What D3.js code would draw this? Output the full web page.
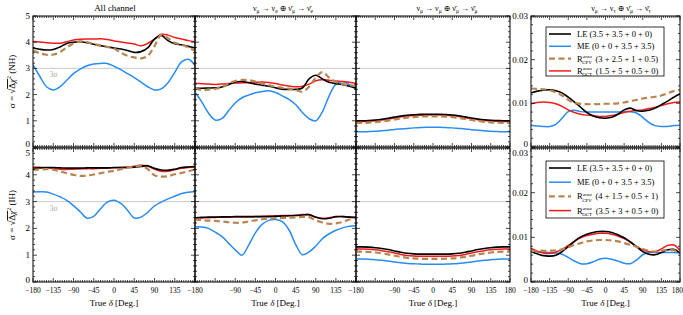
<!DOCTYPE html>
<html>
<head>
<meta charset="utf-8">
<script src="https://cdn.jsdelivr.net/npm/d3@7"></script>
<style>
  body { margin: 0; background: #fff; }
  text { font-family: "Liberation Serif", "DejaVu Serif", serif; }
</style>
</head>
<body>
<script>
// true delta grid, degrees
const delta = [-180,-165,-150,-135,-120,-105,-90,-75,-60,-45,-30,-15,0,15,30,45,60,75,90,105,120,135,150,165,180];

// NH, all channels
const nhAllLE  = [3.78,3.73,3.70,3.72,3.82,3.95,4.00,4.02,3.98,3.92,3.87,3.82,3.78,3.74,3.68,3.61,3.64,3.78,4.12,4.26,4.06,3.94,3.90,3.84,3.78];
const nhAllME  = [3.13,2.70,2.30,2.18,2.30,2.55,2.80,2.97,3.10,3.17,3.19,3.19,3.08,2.95,2.80,2.65,2.48,2.30,2.18,2.22,2.45,2.85,3.25,3.35,3.12];
const nhAllCPV = [3.68,3.58,3.52,3.53,3.62,3.80,3.95,4.03,4.00,3.93,3.87,3.82,3.76,3.60,3.48,3.42,3.38,3.48,3.85,4.28,4.15,3.98,3.90,3.80,3.68];
const nhAllOCT = [4.03,4.01,3.98,3.96,3.96,4.02,4.08,4.11,4.12,4.12,4.13,4.10,4.05,4.01,3.97,3.93,3.86,3.95,4.12,4.30,4.27,4.18,4.12,4.06,4.02];
// NH, nu_mu -> nu_e
const nhAppLE  = [2.24,2.24,2.25,2.26,2.29,2.38,2.48,2.50,2.45,2.40,2.36,2.32,2.26,2.21,2.20,2.20,2.25,2.60,2.74,2.60,2.47,2.42,2.38,2.32,2.25];
const nhAppME  = [2.10,1.72,1.30,1.03,1.08,1.38,1.68,1.88,1.98,2.07,2.12,2.15,2.08,1.95,1.82,1.62,1.32,1.08,1.00,1.35,1.95,2.40,2.50,2.38,2.20];
const nhAppCPV = [2.22,2.18,2.19,2.22,2.28,2.42,2.52,2.56,2.55,2.50,2.42,2.36,2.30,2.26,2.23,2.18,2.11,2.30,2.65,2.86,2.65,2.48,2.40,2.36,2.33];
const nhAppOCT = [2.43,2.41,2.40,2.39,2.40,2.42,2.44,2.45,2.46,2.47,2.48,2.46,2.42,2.37,2.33,2.30,2.32,2.40,2.53,2.57,2.55,2.52,2.50,2.47,2.43];
// NH, nu_mu -> nu_mu
const nhDisLE  = [1.00,1.00,1.01,1.03,1.06,1.10,1.14,1.18,1.21,1.23,1.245,1.25,1.25,1.25,1.24,1.22,1.19,1.15,1.11,1.07,1.04,1.02,1.01,1.00,1.00];
const nhDisME  = [0.58,0.58,0.59,0.60,0.62,0.64,0.67,0.69,0.71,0.73,0.74,0.75,0.75,0.75,0.74,0.73,0.71,0.69,0.66,0.64,0.62,0.60,0.59,0.58,0.58];
const nhDisCPV = [0.92,0.92,0.93,0.95,0.98,1.01,1.05,1.09,1.12,1.14,1.16,1.17,1.17,1.17,1.16,1.14,1.11,1.07,1.03,0.99,0.96,0.94,0.93,0.92,0.92];
const nhDisOCT = [0.97,0.97,0.98,1.00,1.03,1.07,1.11,1.15,1.18,1.20,1.21,1.22,1.22,1.22,1.21,1.19,1.16,1.12,1.08,1.04,1.01,0.99,0.98,0.97,0.97];
// NH, nu_mu -> nu_tau
const nhTauLE  = [0.0124,0.0128,0.0130,0.0131,0.0129,0.0124,0.0114,0.0103,0.0091,0.0079,0.0071,0.0067,0.0066,0.0068,0.0075,0.0085,0.0089,0.0083,0.0082,0.0084,0.0089,0.0097,0.0105,0.0114,0.0122];
const nhTauME  = [0.0050,0.0048,0.0047,0.0047,0.0052,0.0066,0.0081,0.0084,0.0081,0.0080,0.0080,0.0080,0.0080,0.0080,0.0080,0.0081,0.0081,0.0078,0.0068,0.0056,0.0049,0.0047,0.0047,0.0049,0.0050];
const nhTauCPV = [0.0134,0.0133,0.0132,0.0130,0.0125,0.0118,0.0108,0.0101,0.0099,0.0098,0.0098,0.0098,0.0099,0.0099,0.0100,0.0102,0.0105,0.0108,0.0111,0.0113,0.0115,0.0118,0.0123,0.0128,0.0131];
const nhTauOCT = [0.0099,0.0102,0.0103,0.0102,0.0099,0.0093,0.0085,0.0079,0.0075,0.0073,0.0072,0.0070,0.0070,0.0072,0.0075,0.0079,0.0082,0.0084,0.0085,0.0088,0.0091,0.0095,0.0099,0.0102,0.0103];

// IH, all channels
const ihAllLE  = [4.24,4.26,4.27,4.27,4.26,4.25,4.25,4.25,4.26,4.26,4.26,4.26,4.27,4.27,4.27,4.28,4.31,4.34,4.24,4.18,4.17,4.21,4.27,4.29,4.31];
const ihAllME  = [3.36,3.37,3.36,3.28,3.18,3.05,2.85,2.62,2.38,2.45,2.73,2.98,3.05,2.93,2.68,2.39,2.42,2.60,2.84,2.98,3.10,3.20,3.30,3.35,3.38];
const ihAllCPV = [4.19,4.20,4.21,4.19,4.13,4.06,4.00,3.96,3.97,4.01,4.06,4.11,4.15,4.21,4.27,4.31,4.34,4.21,3.98,3.93,3.95,4.02,4.07,4.13,4.20];
const ihAllOCT = [4.29,4.28,4.26,4.24,4.21,4.20,4.21,4.22,4.23,4.23,4.24,4.25,4.26,4.27,4.29,4.32,4.36,4.32,4.21,4.13,4.13,4.19,4.24,4.27,4.29];
// IH, nu_mu -> nu_e
const ihAppLE  = [2.40,2.41,2.42,2.42,2.43,2.43,2.44,2.44,2.44,2.44,2.44,2.44,2.45,2.46,2.47,2.48,2.50,2.52,2.42,2.36,2.38,2.44,2.44,2.42,2.41];
const ihAppME  = [2.06,2.05,2.00,1.86,1.70,1.45,1.20,1.00,1.38,1.83,2.15,2.30,2.33,2.25,1.95,1.40,1.02,1.12,1.34,1.62,1.80,1.93,2.02,2.08,2.10];
const ihAppCPV = [2.34,2.31,2.29,2.28,2.26,2.23,2.21,2.22,2.26,2.30,2.34,2.37,2.38,2.39,2.40,2.41,2.43,2.42,2.30,2.22,2.17,2.19,2.24,2.33,2.38];
const ihAppOCT = [2.38,2.39,2.40,2.41,2.42,2.42,2.43,2.43,2.43,2.44,2.45,2.46,2.47,2.48,2.48,2.49,2.52,2.50,2.42,2.38,2.40,2.43,2.44,2.43,2.41];
// IH, nu_mu -> nu_mu
const ihDisLE  = [1.31,1.31,1.30,1.28,1.25,1.21,1.16,1.11,1.07,1.05,1.04,1.04,1.04,1.04,1.04,1.05,1.07,1.11,1.16,1.21,1.25,1.28,1.30,1.31,1.31];
const ihDisME  = [0.86,0.86,0.85,0.83,0.81,0.78,0.75,0.72,0.69,0.68,0.67,0.66,0.66,0.66,0.67,0.68,0.69,0.72,0.75,0.78,0.81,0.83,0.85,0.86,0.86];
const ihDisCPV = [1.13,1.13,1.12,1.10,1.07,1.03,0.98,0.94,0.90,0.88,0.87,0.86,0.86,0.86,0.87,0.88,0.90,0.94,0.98,1.03,1.07,1.10,1.12,1.13,1.13];
const ihDisOCT = [1.23,1.23,1.22,1.20,1.17,1.13,1.08,1.03,0.99,0.97,0.96,0.96,0.96,0.96,0.96,0.97,0.99,1.03,1.08,1.13,1.17,1.20,1.22,1.23,1.23];
// IH, nu_mu -> nu_tau
const ihTauLE  = [0.0068,0.0063,0.0059,0.0058,0.0060,0.0068,0.0079,0.0091,0.0101,0.0107,0.0111,0.0113,0.0113,0.0111,0.0106,0.0099,0.0090,0.0079,0.0068,0.0062,0.0061,0.0066,0.0072,0.0073,0.0065];
const ihTauME  = [0.0068,0.0068,0.0067,0.0066,0.0065,0.0062,0.0055,0.0047,0.0041,0.0041,0.0045,0.0051,0.0053,0.0051,0.0047,0.0042,0.0041,0.0049,0.0061,0.0066,0.0066,0.0066,0.0066,0.0066,0.0065];
const ihTauCPV = [0.0068,0.0070,0.0070,0.0070,0.0071,0.0073,0.0078,0.0083,0.0087,0.0091,0.0093,0.0094,0.0094,0.0093,0.0091,0.0087,0.0083,0.0079,0.0074,0.0070,0.0068,0.0070,0.0072,0.0071,0.0066];
const ihTauOCT = [0.0075,0.0069,0.0065,0.0064,0.0067,0.0073,0.0082,0.0091,0.0099,0.0104,0.0107,0.0109,0.0109,0.0107,0.0103,0.0097,0.0089,0.0080,0.0072,0.0068,0.0068,0.0074,0.0082,0.0083,0.0071];

const titles = ["All channel", "ν\u03bc → νe ⊕ ν̄μ → ν̄e", "νμ → νμ ⊕ ν̄μ → ν̄μ", "νμ → ντ ⊕ ν̄μ → ν̄τ"];
const titleSubs = [null, ["e","e"], ["μ","μ"], ["τ","τ"]];
const xTickLabels = [
    [-180,-135,-90,-45,0,45,90,135],
    [-180,-90,-45,0,45,90,135],
    [-180,-90,-45,0,45,90,135,180],
    [-180,-135,-90,-45,0,45,90,135,180]
];
const sigmaTicks = [0,1,2,3,4,5];
const tauTicks = [0, 0.01, 0.02, 0.03];
const legendNH = ["(3.5 + 3.5 + 0 + 0)", "(0 + 0 + 3.5 + 3.5)", "(3 + 2.5 + 1 + 0.5)", "(1.5 + 5 + 0.5 + 0)"];
const legendIH = ["(3.5 + 3.5 + 0 + 0)", "(0 + 0 + 3.5 + 3.5)", "(4 + 1.5 + 0.5 + 1)", "(3.5 + 3 + 0.5 + 0)"];

const data = {
    NH: [[nhAllLE, nhAllME, nhAllCPV, nhAllOCT], [nhAppLE, nhAppME, nhAppCPV, nhAppOCT],
         [nhDisLE, nhDisME, nhDisCPV, nhDisOCT], [nhTauLE, nhTauME, nhTauCPV, nhTauOCT]],
    IH: [[ihAllLE, ihAllME, ihAllCPV, ihAllOCT], [ihAppLE, ihAppME, ihAppCPV, ihAppOCT],
         [ihDisLE, ihDisME, ihDisCPV, ihDisOCT], [ihTauLE, ihTauME, ihTauCPV, ihTauOCT]]
};

const series = [
    {name: "LE", color: "#000000", width: 1.6, dash: null},
    {name: "ME", color: "#2a8cf0", width: 1.5, dash: null},
    {name: "CPV", color: "#b8844f", width: 2.2, dash: "6,3.5"},
    {name: "OCT", color: "#ee1d1d", width: 1.5, dash: null}
];

const W = 683, H = 315;
const panelX = [[33, 195], [195, 356], [356, 510], [531, 680]];
const rowY = [[16, 147], [148, 282]];

const svg = d3.select("body").append("svg")
    .attr("width", W).attr("height", H);

const x = panelX.map(([a, b]) => d3.scaleLinear().domain([-180, 180]).range([a, b]));

function yScale(p, r) {
    const dom = p === 3 ? [0, 0.03] : [0, 5];
    return d3.scaleLinear().domain(dom).range([rowY[r][1], rowY[r][0]]);
}

const line = (xs, ys) => d3.line()
    .x((d, i) => xs(delta[i]))
    .y(d => ys(d))
    .curve(d3.curveCatmullRom.alpha(0.5));

["NH", "IH"].forEach((h, r) => {
    panelX.forEach((px, p) => {
        const xs = x[p], ys = yScale(p, r);
        const g = svg.append("g");
        const clipId = `clip-${r}-${p}`;
        svg.append("clipPath").attr("id", clipId).append("rect")
            .attr("x", px[0]).attr("y", rowY[r][0])
            .attr("width", px[1] - px[0]).attr("height", rowY[r][1] - rowY[r][0]);

        // 3 sigma line
        if (p < 3) {
            g.append("line")
                .attr("x1", px[0]).attr("x2", px[1])
                .attr("y1", ys(3)).attr("y2", ys(3))
                .attr("stroke", "#c4c4c4").attr("stroke-width", 0.9);
        }
        if (p === 0) {
            g.append("text").attr("x", xs(-143)).attr("y", ys(3) + 9)
                .attr("font-size", 7.5).attr("fill", "#aaa").text("3σ");
        }

        const curves = g.append("g").attr("clip-path", `url(#${clipId})`);
        [1, 3, 0, 2].forEach(si => {
            const s = series[si];
            curves.append("path")
                .datum(data[h][p][si])
                .attr("d", line(xs, ys))
                .attr("fill", "none")
                .attr("stroke", s.color)
                .attr("stroke-width", s.width)
                .attr("stroke-dasharray", s.dash);
        });

        // ticks, all four sides, pointing in
        const ax = g.append("g").attr("stroke", "#000").attr("stroke-width", 0.7);
        const xMinor = d3.range(-180, 181, 5);
        xMinor.forEach(v => {
            const len = v % 45 === 0 ? 4 : 2;
            const xx = xs(v);
            ax.append("line").attr("x1", xx).attr("x2", xx)
                .attr("y1", rowY[r][1]).attr("y2", rowY[r][1] - len);
            ax.append("line").attr("x1", xx).attr("x2", xx)
                .attr("y1", rowY[r][0]).attr("y2", rowY[r][0] + len);
        });
        const yDom = ys.domain();
        const yStep = p === 3 ? 0.002 : 0.2;
        const yMajor = p === 3 ? 0.01 : 1;
        d3.range(0, Math.round(yDom[1] / yStep) + 1).forEach(k => {
            const v = k * yStep;
            const major = Math.abs(v / yMajor - Math.round(v / yMajor)) < 1e-6;
            const len = major ? 4 : 2;
            const yy = ys(v);
            ax.append("line").attr("x1", px[0]).attr("x2", px[0] + len)
                .attr("y1", yy).attr("y2", yy);
            ax.append("line").attr("x1", px[1]).attr("x2", px[1] - len)
                .attr("y1", yy).attr("y2", yy);
        });

        g.append("rect")
            .attr("x", px[0]).attr("y", rowY[r][0])
            .attr("width", px[1] - px[0]).attr("height", rowY[r][1] - rowY[r][0])
            .attr("fill", "none").attr("stroke", "#000").attr("stroke-width", 1);

        // y tick labels
        if (p === 0 || p === 3) {
            const ticks = p === 0 ? sigmaTicks : tauTicks;
            ticks.forEach((v, i) => {
                let dy = 3;
                if (i === 0) dy = r === 0 ? 0 : 1;
                if (r === 1 && i === ticks.length - 1) dy = 8;
                g.append("text")
                    .attr("x", px[0] - 3).attr("y", ys(v) + dy)
                    .attr("text-anchor", "end").attr("font-size", 9)
                    .text(v === 0 ? "0" : (p === 3 ? d3.format(".2f")(v) : v));
            });
        }

        // bottom axis labels
        if (r === 1) {
            xTickLabels[p].forEach(v => {
                const last = p === 3 && v === 180;
                g.append("text")
                    .attr("x", last ? 683 : xs(v)).attr("y", rowY[1][1] + 11)
                    .attr("text-anchor", last ? "end" : "middle").attr("font-size", 7.5)
                    .text(v < 0 ? "−" + Math.abs(v) : v);
            });
            const xl = g.append("text")
                .attr("x", (px[0] + px[1]) / 2).attr("y", 306)
                .attr("text-anchor", "middle").attr("font-size", 9);
            xl.append("tspan").text("True ");
            xl.append("tspan").attr("font-style", "italic").text("δ");
            xl.append("tspan").text(" [Deg.]");
        }
    });

    // y axis title
    const ymid = (rowY[r][0] + rowY[r][1]) / 2;
    const yt = svg.append("text")
        .attr("transform", `translate(15,${ymid}) rotate(-90)`)
        .attr("text-anchor", "middle").attr("font-size", 9);
    yt.append("tspan").text("σ = √");
    yt.append("tspan").attr("text-decoration", "overline").text("Δ").append("tspan").attr("font-style", "italic").text("χ");
    yt.append("tspan").attr("font-size", 6).attr("dy", -4).text("2");
    yt.append("tspan").attr("dy", 4).text(` (${h})`);

    // legend
    const labels = r === 0 ? legendNH : legendIH;
    const ly = r === 0 ? 27 : 161;
    const lg = svg.append("g");
    lg.append("rect").attr("x", 546).attr("y", ly).attr("width", 118).attr("height", r === 0 ? 49 : 57)
        .attr("fill", "#fff").attr("stroke", "#000").attr("stroke-width", 0.8);
    const rowH = r === 0 ? 12.3 : 14.2;
    series.forEach((s, i) => {
        const yy = ly + 7 + i * rowH;
        lg.append("line").attr("x1", 549).attr("x2", 571).attr("y1", yy).attr("y2", yy)
            .attr("stroke", s.color).attr("stroke-width", s.width).attr("stroke-dasharray", s.dash);
        const t = lg.append("text").attr("x", 577).attr("y", yy + 3).attr("font-size", 8.5);
        if (i < 2) {
            t.append("tspan").text(s.name + " " + labels[i]);
        } else {
            t.append("tspan").text("R");
            t.append("tspan").attr("font-size", 5).attr("font-style", "italic").attr("dy", -3.5).text("area");
            t.append("tspan").attr("font-size", 5).attr("dx", -9.5).attr("dy", 6).text(s.name);
            t.append("tspan").attr("dy", -2.5).attr("dx", 1.5).text(" " + labels[i]);
        }
    });
});

// panel titles
const titleX = [115, 283, 447, 621];
titles.forEach((tt, p) => {
    const t = svg.append("text").attr("x", titleX[p]).attr("y", 11)
        .attr("text-anchor", "middle").attr("font-size", p === 0 ? 9 : 8);
    if (p === 0) { t.text(tt); return; }
    const [a, b] = titleSubs[p];
    const sub = (txt) => t.append("tspan").attr("font-size", 5.5).attr("dy", 2).text(txt);
    const back = () => t.append("tspan").attr("dy", -2);
    t.append("tspan").text("ν"); sub("μ"); back().text(" → ν"); sub(a);
    back().text(" ⊕ ν̄"); sub("μ"); back().text(" → ν̄"); sub(b);
});
</script>
</body>
</html>
